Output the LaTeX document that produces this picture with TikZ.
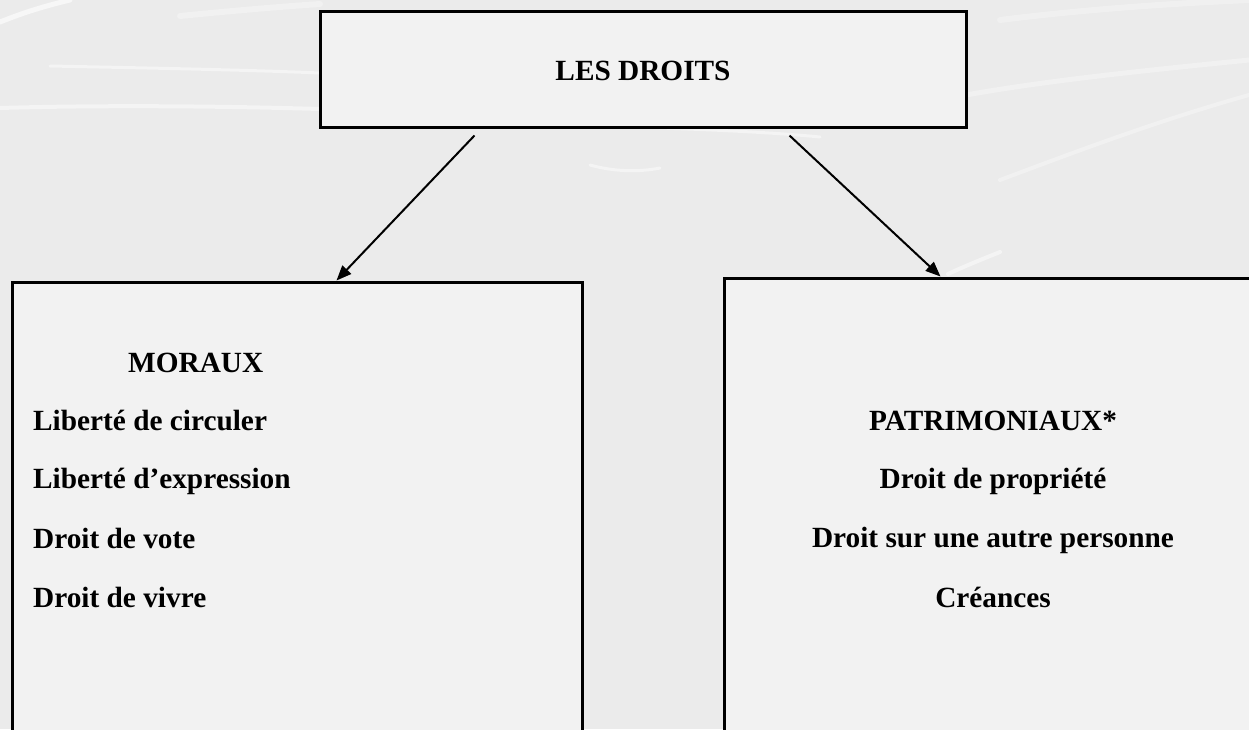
\documentclass[tikz,border=0pt]{standalone}
\usepackage{fontspec}
\setmainfont{Liberation Serif}
\usetikzlibrary{arrows.meta,calc}
\begin{document}
\begin{tikzpicture}[x=1pt,y=-1pt,
  boxstyle/.style={draw=black,line width=3pt,fill=boxfill,inner sep=0pt},
  arr/.style={line width=2pt,-{Triangle[length=15pt,width=12pt]}},
  lbl/.style={inner sep=0pt,font=\fontsize{29.3}{34}\selectfont\bfseries},
  swoosh/.style={white,line cap=round,opacity=0.45}]
\definecolor{bgcol}{HTML}{EBEBEB}
\definecolor{boxfill}{HTML}{F2F2F2}
\useasboundingbox (0,0) rectangle (1249,729);
\clip (0,0) rectangle (1249,729);
\fill[bgcol] (0,0) rectangle (1249,729);
% faint background swooshes
\draw[swoosh,line width=5pt,opacity=0.6] (0,22) .. controls (25,12) and (45,6) .. (70,0);
\draw[swoosh,line width=3pt] (50,66) .. controls (150,68) and (250,70) .. (320,73);
\draw[swoosh,line width=4pt] (0,108) .. controls (100,105) and (220,106) .. (320,109);
\draw[swoosh,line width=6pt,opacity=0.3] (180,16) .. controls (240,10) and (290,6) .. (320,4);
\draw[swoosh,line width=3pt] (590,165) .. controls (615,172) and (640,172) .. (660,168);
\draw[swoosh,line width=3pt] (660,128) .. controls (720,130) and (780,133) .. (820,137);
\draw[swoosh,line width=4pt] (948,274) .. controls (965,266) and (985,258) .. (1000,252);
\draw[swoosh,line width=5pt,opacity=0.3] (966,95) .. controls (1050,80) and (1150,70) .. (1249,60);
\draw[swoosh,line width=4pt,opacity=0.3] (1000,180) .. controls (1080,150) and (1160,120) .. (1249,95);
\draw[swoosh,line width=6pt,opacity=0.25] (1000,20) .. controls (1080,10) and (1160,4) .. (1249,0);
% boxes
\node[boxstyle,minimum width=646pt,minimum height=116pt] (top) at (643,69) {};
\node[boxstyle,minimum width=570pt,minimum height=520pt] (left) at (297,542) {};
\node[boxstyle,minimum width=560pt,minimum height=520pt] (right) at (1004,538) {};
% texts
\node[lbl,anchor=base] (t0) at (643,80) {LES DROITS};
\node[lbl,anchor=base west] (m0) at (128,372) {MORAUX};
\node[lbl,anchor=base west] (m1) at (33,430) {Liberté de circuler};
\node[lbl,anchor=base west] (m2) at (33,488) {Liberté d’expression};
\node[lbl,anchor=base west] (m3) at (33,548) {Droit de vote};
\node[lbl,anchor=base west] (m4) at (33,607) {Droit de vivre};
\node[lbl,anchor=base] (p0) at (993,430) {PATRIMONIAUX*};
\node[lbl,anchor=base] (p1) at (993,488) {Droit de propriété};
\node[lbl,anchor=base] (p2) at (993,547) {Droit sur une autre personne};
\node[lbl,anchor=base] (p3) at (993,607) {Créances};
% connectors
\coordinate (s1) at ($(top.south west)+(156,7)$);
\coordinate (s2) at ($(top.south west)+(471,7)$);
\coordinate (e1) at ($(left.north west)+(326,0)$);
\coordinate (e2) at ($(right.north west)+(218,0)$);
\draw[arr] (s1) -- (e1);
\draw[arr] (s2) -- (e2);
\end{tikzpicture}
\end{document}
